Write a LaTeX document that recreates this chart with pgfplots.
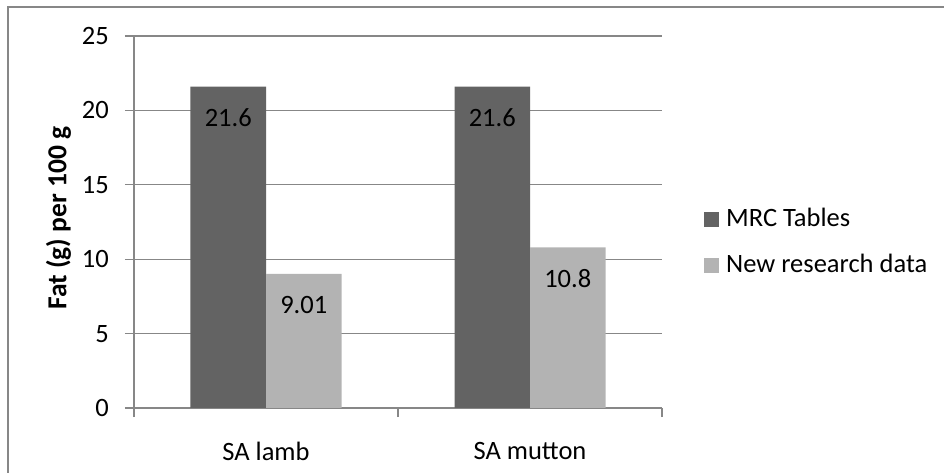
\documentclass[border=0pt]{standalone}
\usepackage{pgfplots}
\pgfplotsset{compat=1.18}
\usepackage{fontspec}
\setmainfont{Carlito}
\definecolor{darkbar}{HTML}{636363}
\definecolor{lightbar}{HTML}{B3B3B3}
\definecolor{axisgray}{HTML}{878787}
\begin{document}
\begin{tikzpicture}
\fontsize{26.5}{30}\selectfont
\begin{axis}[
    at={(0pt,0pt)}, anchor=south west,
    scale only axis,
    width=528pt, height=372pt,
    ybar=0pt, bar width=75.5pt,
    xmin=-0.5, xmax=1.5,
    ymin=0, ymax=25,
    xtick={0,1},
    xticklabels={SA lamb, SA mutton},
    minor xtick={-0.5,0.5,1.5},
    ytick={0,5,...,25},
    tick align=outside,
    xtick pos=bottom, ytick pos=left,
    major x tick style={draw=none},
    major tick length=9pt, minor tick length=9pt,
    tick style={axisgray, line width=1.2pt},
    axis line style={axisgray, line width=1.2pt},
    axis x line*=bottom, axis y line*=left,
    ymajorgrids,
    grid style={axisgray, line width=1.2pt},
    /pgf/number format/assume math mode=true,
    yticklabel style={anchor=east, inner sep=0pt, xshift=-16pt},
    xticklabel style={yshift=-16pt},
    ylabel={\fontsize{27.5}{30}\selectfont\bfseries Fat (g) per 100 g},
    every axis y label/.style={at={(axis description cs:-0.143,0.51)}, rotate=90, anchor=center},
    nodes near coords,
    every node near coord/.append style={anchor=center, yshift=-31pt, text=black},
    legend style={at={(1.0795,0.445)}, anchor=west, draw=none, fill=none,
        row sep=24pt, inner sep=0pt, cells={anchor=west},
        nodes={inner sep=0pt}},
    legend image code/.code={\fill[#1, draw=none] (0pt,-7.5pt) rectangle (15pt,7.5pt);
        \path (22pt,0pt);},
]
\addplot[fill=darkbar, draw=none] coordinates {(0,21.6) (1,21.6)};
\addlegendentry{MRC Tables}
\addplot[fill=lightbar, draw=none] coordinates {(0,9.01) (1,10.8)};
\addlegendentry{New research data}
\end{axis}
% outer chart frame (only top and left edges fall inside the picture)
\draw[axisgray, line width=1.2pt] (-126pt,-70pt) -- (-126pt,401pt) -- (815pt,401pt);
\pgfresetboundingbox
\path[use as bounding box] (-134pt,-65pt) rectangle (810pt,408pt);
\end{tikzpicture}
\end{document}
